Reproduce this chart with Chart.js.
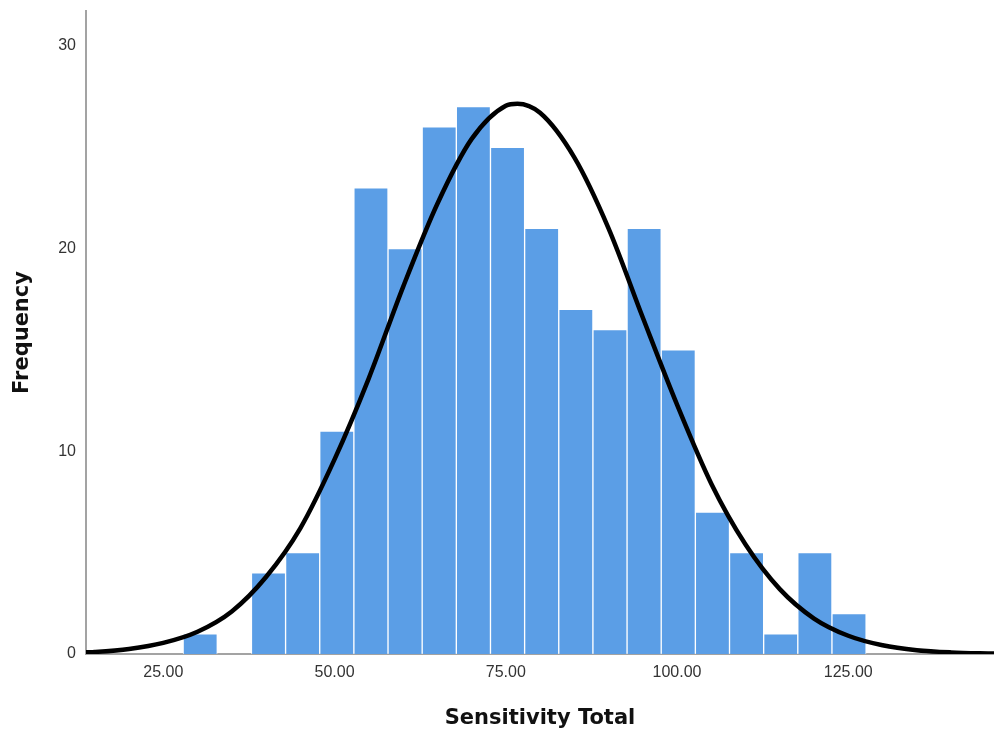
<!DOCTYPE html>
<html>
<head>
<meta charset="utf-8">
<script src="https://cdn.jsdelivr.net/npm/chart.js@4.4.1/dist/chart.umd.min.js"></script>
<style>
  html, body { margin: 0; padding: 0; background: #fff; }
  #wrap { width: 994px; height: 731px; position: relative; }
</style>
</head>
<body>
<div id="wrap"><canvas id="hist"></canvas></div>
<script>
/* Histogram: Sensitivity Total */
const binStart = 27.9;
const binWidth = 4.985;
const counts = [1, 0, 4, 5, 11, 23, 20, 26, 27, 25, 21, 17, 16, 21, 15, 7, 5, 1, 5, 2];

/* Normal curve */
const curveX = [13.7, 15, 20, 25, 30, 35, 40, 45, 50, 55, 60, 65, 70, 75, 76.7, 80, 85, 90, 95, 100, 105, 110, 115, 120, 125, 130, 135, 140, 146.3];
const curveY = [0.08, 0.1, 0.25, 0.55, 1.1, 2.1, 3.8, 6.2, 9.6, 13.6, 18.1, 22.2, 25.4, 27.05, 27.15, 26.7, 24.5, 21.0, 16.6, 12.3, 8.4, 5.4, 3.2, 1.75, 0.9, 0.43, 0.19, 0.08, 0.02];

/* Axis ticks */
const xTicks = [25, 50, 75, 100, 125];
const yTicks = [0, 10, 20, 30];
const xMin = 13.72, xMax = 146.27, yMax = 31.72;

const bars = counts.map((c, i) => ({ x: binStart + binWidth * (i + 0.5), y: c }));
const curve = curveX.map((x, i) => ({ x: x, y: curveY[i] }));

Chart.defaults.font.family = '"Liberation Sans", Arial, sans-serif';
Chart.defaults.color = '#333';

new Chart(document.getElementById('hist').getContext('2d'), {
  type: 'bar',
  data: {
    datasets: [
      {
        type: 'line',
        data: curve,
        borderColor: '#000',
        borderWidth: 4.5,
        pointRadius: 0,
        cubicInterpolationMode: 'monotone',
        fill: false,
        order: 0
      },
      {
        type: 'bar',
        data: bars,
        backgroundColor: '#5b9ee6',
        borderColor: 'rgba(255,255,255,0.75)',
        borderWidth: 1,
        barPercentage: 1,
        categoryPercentage: 1,
        order: 1
      }
    ]
  },
  options: {
    responsive: true,
    maintainAspectRatio: false,
    animation: false,
    layout: { padding: { top: 11, right: 0, bottom: 0, left: 0 } },
    plugins: { legend: { display: false }, tooltip: { enabled: false } },
    scales: {
      x: {
        type: 'linear',
        min: xMin,
        max: xMax,
        offset: false,
        grid: { display: false, drawTicks: false },
        border: { display: true, color: '#a3a3a3', width: 2 },
        afterBuildTicks: s => { s.ticks = xTicks.map(v => ({ value: v })); },
        afterFit: s => { s.height = 77; s.paddingLeft = 0; s.paddingRight = 0; },
        ticks: { padding: 9, font: { size: 16 }, maxRotation: 0, callback: v => v.toFixed(2) },
        title: {
          display: true,
          text: 'Sensitivity Total',
          color: '#111',
          padding: { top: 0, bottom: 0 },
          font: { family: '"DejaVu Sans", sans-serif', size: 21, weight: 'bold' }
        }
      },
      y: {
        min: 0,
        max: yMax,
        grid: { display: false, drawTicks: false },
        border: { display: true, color: '#a3a3a3', width: 2 },
        afterBuildTicks: s => { s.ticks = yTicks.map(v => ({ value: v })); },
        afterFit: s => { s.width = 86; s.paddingTop = 0; s.paddingBottom = 0; },
        ticks: { padding: 10, font: { size: 16 } },
        title: {
          display: true,
          text: 'Frequency',
          color: '#111',
          padding: { top: 10, bottom: 0 },
          font: { family: '"DejaVu Sans", sans-serif', size: 21, weight: 'bold' }
        }
      }
    }
  }
});
</script>
</body>
</html>
